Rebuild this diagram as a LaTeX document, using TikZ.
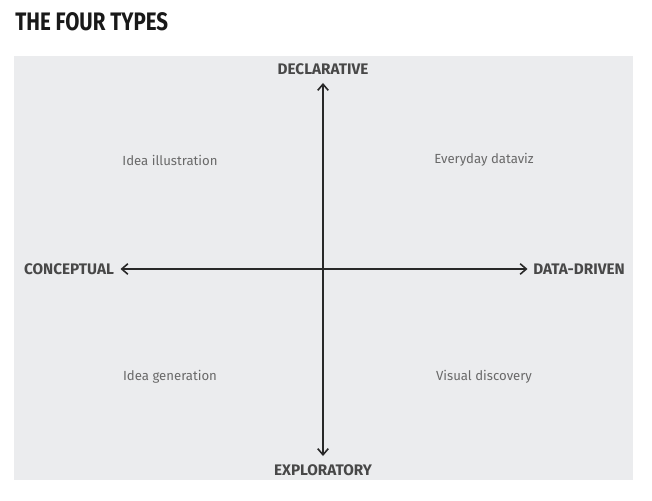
\documentclass[tikz,border=0pt]{standalone}
\usepackage{fontspec}
\setmainfont{Fira Sans}
\usepackage{xcolor}
\usetikzlibrary{arrows.meta}

\definecolor{panelgray}{RGB}{235,236,238}
\definecolor{axisink}{RGB}{40,40,40}
\definecolor{typeink}{RGB}{105,105,105}

\begin{document}
\begin{tikzpicture}[
    x=0.02cm, y=-0.02cm,
    >={Straight Barb[length=3.5pt,width=6pt]},
    axislabel/.style={font=\bfseries\fontsize{8.7}{10}\selectfont, text=axisink!85, inner sep=1.1pt},
    quadrant/.style={font=\fontsize{7.5}{9}\selectfont, text=typeink},
    axisline/.style={<->, line width=0.9pt, draw=axisink}
  ]
    \useasboundingbox (0,0) rectangle (652,500);
    \fill[panelgray] (14,56) rectangle (633,480);
    \node[anchor=base west, inner sep=0pt, text=black!90,
          font=\bfseries\fontsize{14.4}{16}\selectfont] (title) at (15,31)
          {\scalebox{0.81}[1]{THE FOUR TYPES}};
    % axis ends
    \node[axislabel] (decl) at (323,69)  {DECLARATIVE};
    \node[axislabel] (expl) at (323,470) {EXPLORATORY};
    \node[axislabel] (conc) at (69,269)  {CONCEPTUAL};
    \node[axislabel] (data) at (579,269) {DATA-DRIVEN};
    \draw[axisline, shorten <=3.5pt, shorten >=3.5pt] (decl) -- (expl);
    \draw[axisline, shorten <=2.5pt, shorten >=2pt] (conc) -- (data);
    % the four types
    \node[quadrant] (illus) at (170,160) {Idea illustration};
    \node[quadrant] (every) at (484,160) {Everyday dataviz};
    \node[quadrant] (gener) at (170,377) {Idea generation};
    \node[quadrant] (disco) at (484,377) {Visual discovery};
\end{tikzpicture}
\end{document}
